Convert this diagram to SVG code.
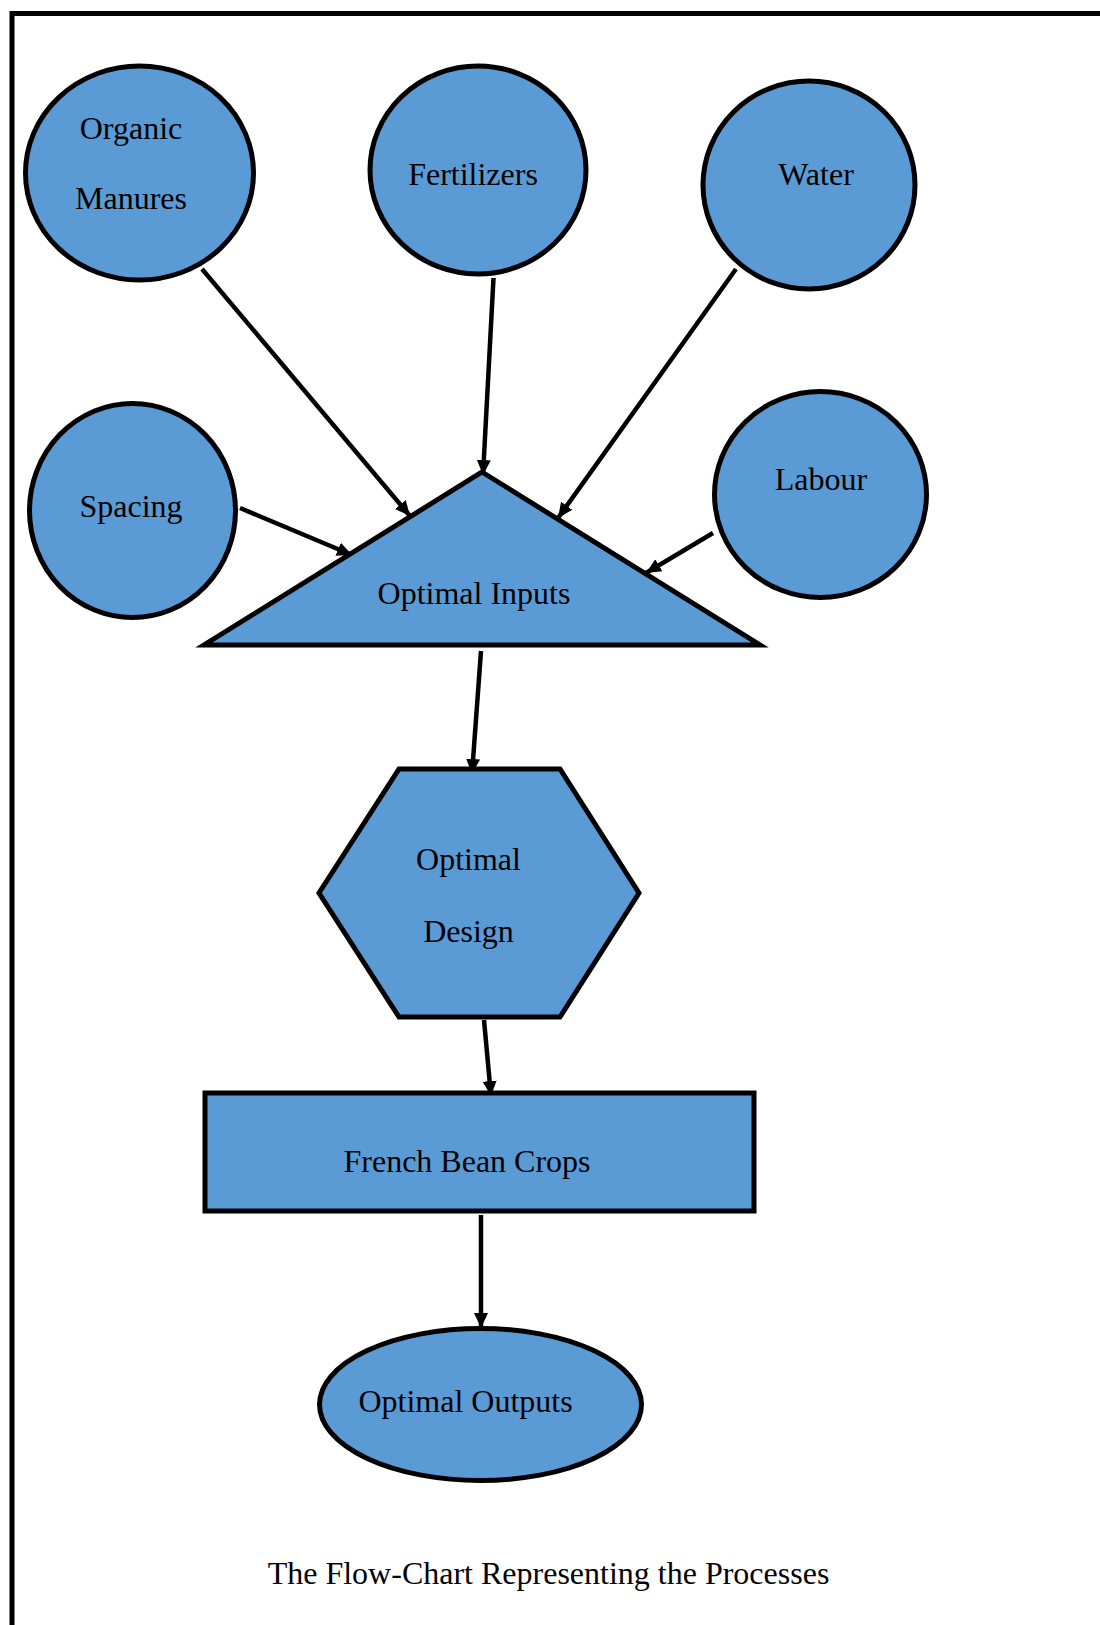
<svg xmlns="http://www.w3.org/2000/svg" width="1100" height="1625" viewBox="0 0 1100 1625">
<style>
.shape{fill:#5B9BD5;stroke:#000;stroke-width:5}
.lbl{font-family:"Liberation Serif","Times New Roman",serif;font-size:32px;fill:#000;text-anchor:middle}
.edge{stroke:#000;stroke-width:4.5;fill:none;marker-end:url(#arr)}
</style>
<defs>
<marker id="arr" markerUnits="userSpaceOnUse" markerWidth="18" markerHeight="16" refX="15" refY="8" orient="auto">
<path d="M0,1 L15,8 L0,15 Z" fill="#000"/>
</marker>
</defs>
<rect width="1100" height="1625" fill="#fff"/>
<path d="M12,1625 V13.5 H1100" fill="none" stroke="#000" stroke-width="5"/>
<g id="connectors">
<line class="edge" x1="202" y1="269" x2="410" y2="516"/>
<line class="edge" x1="493.5" y1="278" x2="483" y2="475"/>
<line class="edge" x1="736" y1="269" x2="558" y2="518"/>
<line class="edge" x1="240" y1="508" x2="352" y2="555"/>
<line class="edge" x1="713" y1="533" x2="646" y2="573"/>
<line class="edge" x1="481" y1="651" x2="472" y2="774"/>
<line class="edge" x1="484" y1="1020" x2="491" y2="1096"/>
<line class="edge" x1="481" y1="1215" x2="481" y2="1328"/>
</g>
<g id="organic-manures">
<ellipse class="shape" cx="139.5" cy="173" rx="114" ry="107"/>
<text class="lbl" x="131" y="139">Organic</text>
<text class="lbl" x="131" y="209">Manures</text>
</g>
<g id="fertilizers">
<ellipse class="shape" cx="478" cy="170" rx="108" ry="104"/>
<text class="lbl" x="473" y="185">Fertilizers</text>
</g>
<g id="water">
<ellipse class="shape" cx="809" cy="185" rx="106" ry="104"/>
<text class="lbl" x="816" y="185">Water</text>
</g>
<g id="spacing">
<ellipse class="shape" cx="132.5" cy="510.5" rx="103" ry="107"/>
<text class="lbl" x="131" y="517">Spacing</text>
</g>
<g id="labour">
<ellipse class="shape" cx="820.5" cy="494.5" rx="106" ry="103"/>
<text class="lbl" x="821" y="490">Labour</text>
</g>
<g id="optimal-inputs">
<polygon class="shape" points="482,472 760,645 204,645"/>
<text class="lbl" x="474" y="604">Optimal Inputs</text>
</g>
<g id="optimal-design">
<polygon class="shape" points="399,769 560,769 639,893 560,1017 399,1017 319,893"/>
<text class="lbl" x="468.5" y="870">Optimal</text>
<text class="lbl" x="468.5" y="942">Design</text>
</g>
<g id="french-bean-crops">
<rect class="shape" x="205" y="1093" width="549" height="118"/>
<text class="lbl" x="467" y="1172">French Bean Crops</text>
</g>
<g id="optimal-outputs">
<ellipse class="shape" cx="480.5" cy="1404.5" rx="161" ry="76"/>
<text class="lbl" x="465.5" y="1412">Optimal Outputs</text>
</g>
<text class="lbl" x="548.5" y="1584">The Flow-Chart Representing the Processes</text>
</svg>
